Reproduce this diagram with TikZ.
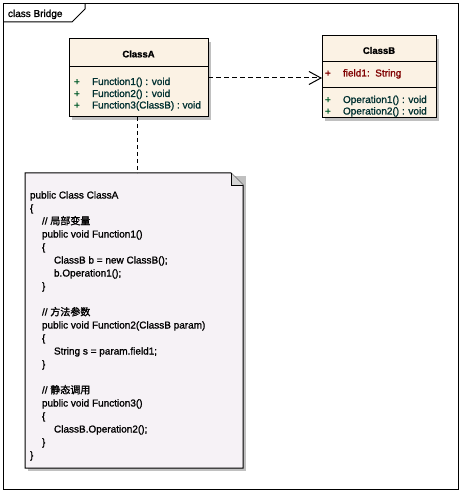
\documentclass[tikz,border=0pt]{standalone}
\usepackage{fontspec}
\setmainfont{Liberation Sans}[FakeBold=1.2]
\newfontfamily\heavy{Liberation Sans}[FakeBold=1.2]
\newfontfamily\cjk{Noto Sans CJK SC}[FakeBold=1.5]
\usetikzlibrary{arrows.meta,calc}
\definecolor{classfill}{RGB}{251,242,228}
\definecolor{notefill}{RGB}{246,242,246}
\definecolor{shadowgray}{RGB}{192,192,192}
\definecolor{foldgray}{RGB}{212,212,212}
\definecolor{membertext}{RGB}{0,48,48}
\definecolor{plusgreen}{RGB}{0,90,40}
\definecolor{fieldred}{RGB}{128,0,0}
\begin{document}
\begin{tikzpicture}[x=1pt,y=-1pt,line width=1pt,
  every node/.style={font=\fontsize{10}{12}\selectfont\heavy, inner sep=0pt, outer sep=0pt},
  classbox/.style={draw=black, fill=classfill, rectangle},
  shadowbox/.style={fill=shadowgray, draw=none},
  member/.style={anchor=base west, text=membertext},
  vis/.style={anchor=base west, text=plusgreen},
  fieldtext/.style={anchor=base west, text=fieldred},
  classname/.style={font=\fontsize{9.5}{11}\selectfont\bfseries},
  code/.style={anchor=base west, text=black},
  dep/.style={draw=black, dash pattern=on 5pt off 3pt, -{Straight Barb[length=12pt,width=13pt,line width=1pt]}},
  link/.style={draw=black, dash pattern=on 4pt off 3pt}
]
\useasboundingbox (0,0) rectangle (462,494);
% frame
\draw (3,4) rectangle (458,489);
\draw (3,22) -- (72,22) -- (85,9) -- (85,4);
\node[anchor=base west] (title) at (8,17) {class Bridge};

% shadows
\fill[shadowgray] (72,42) rectangle (211,120);
\fill[shadowgray] (325,39) rectangle (439,121);
\fill[shadowgray] (28,176) rectangle (246,471);

% ClassA
\node[classbox, minimum width=139pt, minimum height=78pt] (classA) at (138.5,78) {};
\draw (classA.west |- 0,67) -- (classA.east |- 0,67);
\node[classname] (classAname) at (138.5,54) {ClassA};
\node[vis] (a1v) at (74,85) {+};
\node[member] (a1) at (92,85) {Function1() : void};
\node[vis] (a2v) at (74,97) {+};
\node[member] (a2) at (92,97) {Function2() : void};
\node[vis] (a3v) at (74,108.5) {+};
\node[member] (a3) at (92,108.5) {Function3(ClassB) : void};

% ClassB
\node[classbox, minimum width=114pt, minimum height=82pt] (classB) at (379,77) {};
\draw (classB.west |- 0,62) -- (classB.east |- 0,62);
\draw (classB.west |- 0,88) -- (classB.east |- 0,88);
\node[classname] (classBname) at (379,50.5) {ClassB};
\node[fieldtext] (b0v) at (325,76.5) {+};
\node[fieldtext] (b0) at (343,76.5) {field1:\ \ String};
\node[vis] (b1v) at (325,103) {+};
\node[member] (b1) at (343,103) {Operation1() : void};
\node[vis] (b2v) at (325,114.5) {+};
\node[member] (b2) at (343,114.5) {Operation2() : void};

% dependency
\draw[dep] (classA.east |- 0,78) -- (classB.west |- 0,78);

% note
\node[minimum width=218pt, minimum height=295pt] (note) at (134,320.5) {};
\filldraw[fill=notefill, draw=black] (note.north west) -- ($(note.north east)+(-12,0)$) -- ($(note.north east)+(0,12)$) -- (note.south east) -- (note.south west) -- cycle;
\filldraw[fill=foldgray, draw=black] ($(note.north east)+(-12,0)$) -- ($(note.north east)+(-12,12)$) -- ($(note.north east)+(0,12)$);
\draw[link] (classA.south -| 137,0) -- (note.north -| 137,0);

\node[code] (c1) at (30,198.5) {public Class ClassA};
\node[code] (c2) at (30,211.5) {\{};
\node[code] (c3) at (42,224.5) {// {\cjk 局部变量}};
\node[code] (c4) at (42,237.5) {public void Function1()};
\node[code] (c5) at (42,250.5) {\{};
\node[code] (c6) at (54,263.5) {ClassB b = new ClassB();};
\node[code] (c7) at (54,276.5) {b.Operation1();};
\node[code] (c8) at (42,289.5) {\}};
\node[code] (c9) at (42,315.5) {// {\cjk 方法参数}};
\node[code] (c10) at (42,328.5) {public void Function2(ClassB param)};
\node[code] (c11) at (42,341.5) {\{};
\node[code] (c12) at (54,354.5) {String s = param.field1;};
\node[code] (c13) at (42,367.5) {\}};
\node[code] (c14) at (42,393.5) {// {\cjk 静态调用}};
\node[code] (c15) at (42,406.5) {public void Function3()};
\node[code] (c16) at (42,419.5) {\{};
\node[code] (c17) at (54,432.5) {ClassB.Operation2();};
\node[code] (c18) at (42,445.5) {\}};
\node[code] (c19) at (30,458.5) {\}};
\end{tikzpicture}
\end{document}
